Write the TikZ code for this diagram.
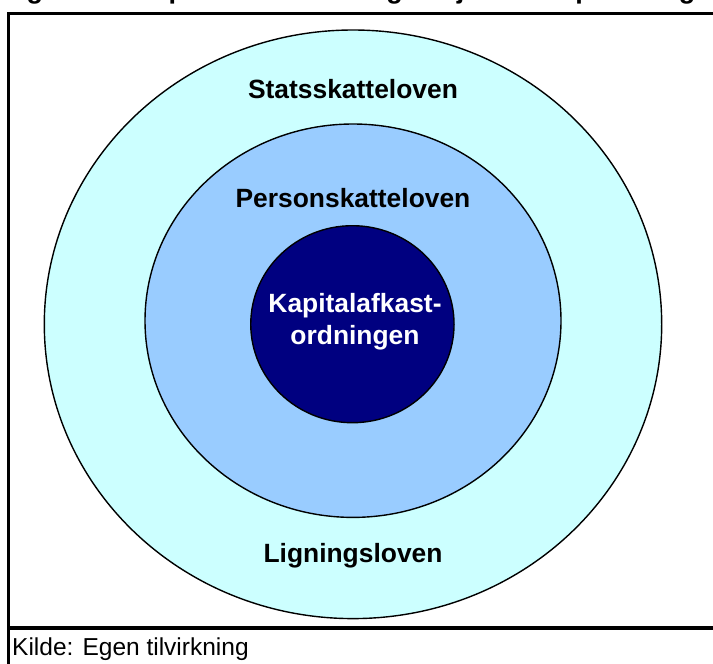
\documentclass[tikz,border=0pt]{standalone}
\usepackage{fontspec}
\setmainfont{Liberation Sans}
\usetikzlibrary{shapes.geometric}
\definecolor{ringA}{HTML}{CCFFFF}
\definecolor{ringB}{HTML}{99CCFF}
\definecolor{ringC}{HTML}{000080}
\begin{document}
\begin{tikzpicture}[x=1pt,y=-1pt,
  ring/.style={ellipse, draw=black, line width=1.4pt, inner sep=0pt},
  lbl/.style={font=\fontsize{26.4}{31.7}\selectfont\bfseries, anchor=base, inner sep=0pt},
  frameline/.style={line width=3.2pt}]
\useasboundingbox (0,0) rectangle (713,664);
\clip (0,0) rectangle (713,664);
\fill[white] (0,0) rectangle (713,664);
% cut-off title
\node[anchor=base west, inner sep=0pt, font=\fontsize{27}{32}\selectfont\bfseries] (title) at (2.5,-1.2) {Figur 2.1: Kapitalafkastordningens juridiske placering};
% frame
\coordinate (ftl) at (8.5,13.5);
\coordinate (ftr) at (720,13.5);
\coordinate (fbl) at (8.5,670);
\coordinate (sepL) at (8.5,628);
\coordinate (sepR) at (720,628);
\draw[frameline] (ftr) -- (ftl) -- (fbl);
\draw[frameline] (sepL) -- (sepR);
% rings
\node[ring, fill=ringA, minimum width=617.4pt, minimum height=588.6pt] (outer) at (353,324.3) {};
\node[ring, fill=ringB, minimum width=416pt, minimum height=393.4pt] (middle) at (353,320.7) {};
\node[ring, fill=ringC, minimum width=203.3pt, minimum height=197pt] (inner) at (352.4,324.2) {};
% labels
\node[lbl] (stats) at (353,98) {Statsskatteloven};
\node[lbl] (person) at (353,207.5) {Personskatteloven};
\node[lbl, text=white] (kapA) at (355,312) {Kapitalafkast-};
\node[lbl, text=white] (kapB) at (355,344) {ordningen};
\node[lbl] (lign) at (353,562) {Ligningsloven};
% source
\node[anchor=base west, inner sep=0pt, font=\fontsize{24.5}{28}\selectfont] (kilde) at (12,655) {Kilde: Egen tilvirkning};
\end{tikzpicture}
\end{document}
